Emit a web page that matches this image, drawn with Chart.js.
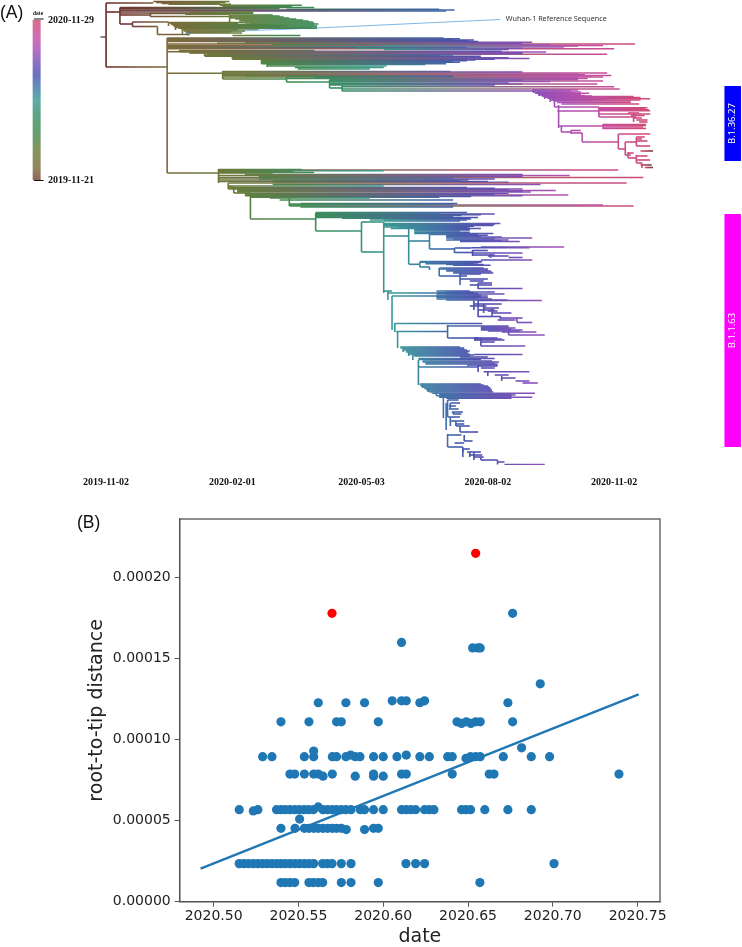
<!DOCTYPE html>
<html>
<head>
<meta charset="utf-8">
<script src="https://cdn.jsdelivr.net/npm/chart.js@4/dist/chart.umd.min.js"></script>
<style>
  body { margin: 0; background: #fff; }
  canvas { position: absolute; left: 0; }
  #tree { top: 0; }
  #rtt { top: 500px; }
</style>
</head>
<body>
<canvas id="tree" width="742" height="500"></canvas>
<canvas id="rtt" width="742" height="447"></canvas>
<script>
// panel A: days since 2019-11-02, row = tip order from the top
const dateTicks = [0, 91, 184, 275, 366];
const dateLabels = ['2019-11-02', '2020-02-01', '2020-05-03', '2020-08-02', '2020-11-02'];

// [from day, to day, row]
const clade1 = [
  [0,34,3],[34,89,1.5],[36,86,2.5],[40,82,3.5],[45,90,4.2],[82,141,5.2],[84,134,6.2],
  [0,10,12],[10,150,7.5],[10,125,8.5],[130,240,9.2],[10,251,10],[10,245,11],[60,106,12],[10,106,13],
  [10,32,15],[32,106,13.5],[57,89,14.3],[32,91,16.5],[89,120,15],[89,125,16],[89,128,17],[89,132,18],
  [93,137,19],[96,142,20],[96,146,21],[100,149,22],[100,150,23],[104,153,24],[108,150,25],[110,152,26],[112,152,27],
  [10,19,24],[19,45,22],[19,37,26.5],[45,100,22.5],[46,95,23.5],[47,118,24.5],[48,130,25.5],[49,125,26.5],
  [50,148,27.5],[52,152,28.2],[54,110,29],[55,95,30],[56,100,31],[58,90,32],[60,98,33],[37,60,34.5],[91,140,35.5]
];
const clade2 = [
  [0,44,67],[44,243,38],[44,251,39.3],[44,261,40.7],[100,307,42.3],[44,381,44],[44,358,45.5],[44,200,46.7],[200,330,47],
  [44,366,48.7],[200,290,49.5],[53,150,50.5],[44,53,51.7],[53,317,52],[60,277,53],[73,361,54.3],[71,240,55.5],[91,262,57],
  [91,305,58.5],[112,266,60],[112,250,61.5],[112,243,63],[116,230,64.5],[116,202,66],[136,200,67.5],[138,190,69],
  [44,255,38.7],[44,265,40],[44,268,41.5],[80,300,43.2],[120,320,44.8],[200,340,46],[44,260,47.5],[180,300,48.2],
  [53,285,51.2],[60,300,52.7],[73,300,53.7],[71,250,55],[71,270,56.2],[91,290,57.8],[91,280,59.2],[112,260,60.8],[112,255,62.2],[112,245,63.8],
  [44,84,73.3],[84,248,71.5],[84,361,73],[84,364,75.5],[84,358,77],[84,130,79],[130,347,78.5],[130,161,82],[161,358,81],
  [84,300,72],[84,340,74],[84,345,74.8],[100,350,76],[150,340,77.8],[161,340,79.7],[161,320,81.5],[161,300,84],
  [130,250,76.5],[161,300,80],[161,354,84],[161,170,88],[170,366,86.7],[170,370,89],[170,308,91],[161,290,83],[161,280,85]
];
const clade1_36 = [
  [307,340,90],[308,342,92],[309,348,93.3],[311,342,94.5],[313,345,95.5],[315,380,96.5],[317,385,97.5],[319,392,98.7],
  [307,335,91],[310,338,92.7],[312,340,93.9],[314,350,96],[316,360,97],[318,360,98.2],[321,360,99.4],[322,350,100.5],
  [320,385,100],[322,378,101],[325,378,102.5],[328,384,104],[323,355,107],[355,390,107.8],[355,388,108.8],[355,391,109.7],
  [355,392,110.7],[325,355,111],[355,392,114],[355,382,117],[376,384,113],[378,388,115.5],[380,386,118],[382,390,120],[384,390,122],
  [326,358,126],[358,389,124.5],[358,389,125.5],[358,387,127],[358,389,128.5],[328,335,132],[335,343,133],[335,342,130.5],
  [343,369,142],[369,392,134],[369,374,149],[374,382,142],[382,388,137],[382,386,139],[382,390,141],[382,392,146],[385,394,151],
  [374,378,155],[376,380,153],[376,382,158],[382,390,156],[382,392,160],[382,386,163],[385,393,165],[388,394,167.5]
];
const clade3 = [
  [44,81,173],[81,369,170],[81,141,169.5],[81,135,171.5],[81,120,173],[81,334,175.5],[81,387,177.5],[81,250,178],[81,261,180],
  [81,200,170.7],[81,150,172.5],[100,300,174.5],[110,300,176.5],[110,280,179],[120,255,180.8],[120,290,182.3],
  [81,275,181.5],[88,375,183],[120,313,184.5],[88,200,186],[88,300,189],[95,324,190.5],[95,306,192],[100,290,193.5],[100,333,195],
  [88,260,187.5],[90,280,188.2],[95,290,189.7],[95,300,191.3],[100,280,194.3],[100,300,195.7],[104,240,197.3],
  [104,263,196.5],[118,190,198],[125,250,200],[140,253,203.5],[132,380,206],[132,358,205],[132,250,204],[140,250,207],[92,104,193],[104,151,219],[88,92,187]
];
const clade4 = [
  [151,260,212.5],[151,280,214],[151,256,215.5],[151,268,217.5],[200,263,219],[184,200,222],[151,184,231],[184,200,252],
  [151,240,213.2],[151,270,214.8],[151,250,216.3],[170,262,218.3],[190,260,220],[200,255,221],
  [200,284,223.5],[200,279,225.5],[200,262,227],[205,270,228.5],[222,262,230],[222,279,233.5],[200,218,236],[218,233,241],
  [200,280,224.2],[200,275,224.8],[205,265,226.3],[210,260,227.7],[222,262,229.2],[222,255,231],[222,262,232.2],
  [233,268,234.5],[245,307,238],[245,290,240],[255,298,241.5],[270,330,247],[233,251,249],[251,263,248],[263,305,247.8],
  [245,275,235.3],[245,270,236.3],[245,285,237],[250,280,239],[255,285,240.7],
  [251,264,252.5],[264,275,250.5],[264,300,253],[264,280,255],[275,290,256],[290,300,257.5],[270,307,260],
  [218,226,264.3],[226,271,261.5],[245,268,263],[250,277,265.3],[226,233,267],[240,275,269],[245,277,271],[250,279,273],
  [226,270,262.2],[230,265,263.7],[245,272,264.5],[240,272,268],[245,275,270],[250,278,272],[255,270,274],
  [240,260,276],[255,275,279],[262,272,281],[268,278,283],[262,278,285],[268,300,288.5]
];
const clade5 = [
  [200,206,291],[203,238,293],[206,245,296],[245,287,294],[245,275,296],[245,268,298],[245,289,300],[268,314,300.5],[245,280,292],
  [238,262,291],[238,265,292.5],[238,268,293.5],[238,270,295],[238,270,296.5],[238,275,297.5],[238,278,299],
  [265,285,304],[262,274,306],[272,283,308],[268,280,310],[275,282,311],[278,292,313],[268,284,316.5],[284,300,318],[282,295,320],[296,307,322.5],
  [208,271,323.5],[209,246,331.5],[246,290,326],[270,295,328],[270,300,330],[285,310,332],[290,316,335],[246,268,338],
  [270,290,327],[270,292,329],[275,298,331],[265,285,339],
  [265,282,338],[265,287,340],[270,280,342],[270,302,346],
  [212,255,347],[214,258,349],[216,262,351],[218,260,353],[220,265,355],[265,300,354.5],[255,275,357],[225,280,358.5],
  [212,258,348],[214,260,350],[216,261,352],[218,262,354],[222,262,356],[225,270,359.5],[228,278,361],[230,280,363],[260,282,365],
  [228,283,362],[230,282,364],[225,268,367],[268,282,366],[270,280,368],[272,305,371.7],[280,290,375],[285,295,378],[295,305,381],[300,311,383],
  [226,270,384],[227,275,386],[229,277,388],[231,278,390],[233,279,392],[235,309,393.3],[240,295,395],[240,292,394.3],[240,292,396],[240,307,397.3],[245,292,398.3],
  [226,272,385],[228,276,387],[230,277,389],[232,278,391],[238,292,395.7],[240,292,397],
  [246,254,400],[248,255,403],[247,252,406],[247,254,409],[249,257,412],[250,256,414],[246,255,417],[248,258,421],[252,258,424],[252,262,426],[255,268,432],
  [246,256,435],[258,264,441],[251,258,443],[246,257,447],[257,262,449],[260,270,452],[262,271,455],[265,272,457],[270,282,460],[282,287,462],[287,316,464.5]
];
// [day, from row, to row]
const links = [
  [0,3,67],[10,7.5,24],[32,13,17],[19,22,26.5],[37,26.5,34.5],[45,22,26],[50,26,30],[55,30,34],[89,15,28],
  [44,38,173],[53,50,52],[71,53,56],[91,55,59],[112,59,64],[116,64,67],[84,71,79],[130,76,82.3],[161,80,88],[170,85,91],
  [308,91,93],[312,93,96],[316,96,99],[320,99,102],[323,102,107],[326,105,128],[355,107,117],[358,124,129],[328,126,132],[335,130,134],
  [343,133,142],[369,134,149],[374,142,155],[382,137,146],[376,152,158],[382,155,163],[386,163,168],[380,113,122],
  [81,169,183],[88,183,189],[92,187,193],[95,189,193],[104,193,219],[132,197,206],[151,213,231],[184,222,252],[200,222,293],
  [218,225,264],[233,234,249],[251,248,253],[264,250,256],[277,254,258],[226,262,267],[233,267,270],[240,268,276],[255,272,285],[268,283,289],
  [203,291,300],[206,296,330],[268,300,317],[284,316,319],[208,323,332],[246,325,338],[270,338,346],[210,332,348],
  [265,300,310],[272,304,313],[278,308,316],[296,318,322.5],[290,330,335],
  [214,348,352],[218,352,356],[221,356,360],[225,360,385],[268,365,372],[275,372,376],[285,376,381],
  [228,385,388],[232,388,392],[238,392,396],[243,396,418],[245,403,430],[246,400,417],[248,403,409],[250,412,414],[248,417,426],[252,421,426],[255,426,432],
  [246,434,447],[258,435,441],[257,447,452],[257,449,457],[262,452,457],[265,452,460],[270,457,460],[282,460,464.5]
];
const rootStub = [[-4,0,37],[-52,-45,19],[-52,-45,180.5]];
const wuhanTrace = [[59,33],[152,28],[284,19.5]];
const wuhanTip = [[59,33]];
const colourbarRows = [20, 180];
const colourbarDay = -50;
const cladeDay = 451.4;
const cladeNames = ['B.1.36.27', 'B.1.1.63'];
const cladeRows = [[86, 161], [214, 447]];
const cladeColours = ['#0000ff', '#ff00ff'];
const colourDays = [0, 19, 44, 90, 130, 175, 205, 240, 265, 300, 325, 350, 393];
const colourHex = ['#6b2a26','#74403a','#7b6a3a','#6a7c3a','#3f8a4c','#38906e','#3a9a96','#3f72a8','#4a4fb0','#7c4fb8','#a850b8','#c24fa8','#d24a70'];

// panel B: one list of dates for each root-to-tip distance level
const level118 = [2020.5397,2020.5423,2020.5450,2020.5478,2020.5562,2020.5588,2020.5617,2020.5643,2020.5753,2020.5810,2020.5971,2020.6570];
const level235 = [2020.5151,2020.5179,2020.5206,2020.5234,2020.5261,2020.5289,2020.5316,2020.5344,2020.5371,2020.5397,2020.5424,2020.5452,2020.5480,2020.5507,2020.5535,2020.5562,2020.5590,2020.5643,2020.5670,2020.5698,2020.5753,2020.5810,2020.6134,2020.6191,2020.6244,2020.7007];
const level453 = [2020.5397,2020.5480,2020.5535,2020.5562,2020.5590,2020.5617,2020.5645,2020.5672,2020.5700,2020.5725,2020.5753,2020.5943,2020.5971];
const level445 = [2020.5782,2020.5890];
const level568 = [2020.5151,2020.5261,2020.5371,2020.5397,2020.5423,2020.5450,2020.5478,2020.5505,2020.5533,2020.5560,2020.5588,2020.5645,2020.5672,2020.5700,2020.5725,2020.5753,2020.5780,2020.5810,2020.5865,2020.5890,2020.5943,2020.6000,2020.6108,2020.6136,2020.6163,2020.6191,2020.6244,2020.6272,2020.6299,2020.6462,2020.6488,2020.6515,2020.6599,2020.6735,2020.6873];
const level788 = [2020.5450,2020.5478,2020.5535,2020.5590,2020.5617,2020.5700,2020.5943,2020.6108,2020.6136,2020.6407,2020.6625,2020.6653,2020.7390];
const level775 = [2020.5645,2020.5835,2020.5943,2020.6000];
const level895 = [2020.5289,2020.5344,2020.5535,2020.5590,2020.5700,2020.5725,2020.5780,2020.5835,2020.5863,2020.5943,2020.6000,2020.6081,2020.6216,2020.6272,2020.6380,2020.6407,2020.6515,2020.6545,2020.6572,2020.6708,2020.6873,2020.6981];
const level905 = [2020.5808,2020.6136];
const level885 = [2020.6488];
const level1110 = [2020.5397,2020.5562,2020.5725,2020.5753,2020.5971,2020.6435,2020.6490,2020.6545,2020.6572,2020.6763];
const level1100 = [2020.6462,2020.6517];
const level1228 = [2020.5617,2020.5780,2020.5890,2020.6216,2020.6735];
const level1240 = [2020.6053,2020.6108,2020.6136,2020.6244];
const level1566 = [2020.6527,2020.6558,2020.6572];
const distanceLevels = [0.0000118,0.0000235,0.0000453,0.0000445,0.0000568,0.0000788,0.0000775,0.0000895,0.0000905,0.0000885,0.000111,0.00011,0.0001228,0.000124,0.0001566];
const levelDates = [level118,level235,level453,level445,level568,level788,level775,level895,level905,level885,level1110,level1100,level1228,level1240,level1566];
const otherX = [2020.5507,2020.5234,2020.5617,2020.5590,2020.6816,2020.6108,2020.6763,2020.6926];
const otherY = [0.000051,0.000056,0.0000585,0.000093,0.000095,0.00016,0.000178,0.0001345];
const redX = [2020.5698, 2020.6545];
const redY = [0.000178, 0.000215];
const fitX = [2020.4923, 2020.7506];
const fitY = [0.0000204, 0.000128];

const xy = (xs, ys) => xs.map((x, i) => ({x, y: ys[i]}));
const gap = {x: null, y: null};

const branchPoints = [clade1, clade2, clade1_36, clade3, clade4, clade5]
  .flat()
  .flatMap(([a, b, r]) => [{x: a, y: r}, {x: b, y: r}, gap]);
const linkPoints = links.flatMap(([d, a, b]) => [{x: d, y: a}, {x: d, y: b}, gap]);

// colour of a date on the colour bar
function colourAt(day) {
  const k = Math.min(Math.max(colourDays.findIndex(d => d > day), 1), colourDays.length - 1);
  const t = Math.min(Math.max((day - colourDays[k - 1]) / (colourDays[k] - colourDays[k - 1]), 0), 1);
  const rgb = h => [1, 3, 5].map(i => parseInt(h.substr(i, 2), 16));
  const a = rgb(colourHex[k - 1]);
  const b = rgb(colourHex[k]);
  return `rgb(${a.map((v, i) => Math.round(v + (b[i] - v) * t)).join(',')})`;
}
// each branch fades from the colour of its start date to that of its end date
function branchColour(c) {
  const sx = c.chart.scales.x;
  const {p0, p1} = c;
  if (Math.abs(p0.x - p1.x) < 0.01) return colourAt(sx.getValueForPixel(p0.x));
  const g = c.chart.ctx.createLinearGradient(p0.x, 0, p1.x, 0);
  g.addColorStop(0, colourAt(sx.getValueForPixel(p0.x)));
  g.addColorStop(1, colourAt(sx.getValueForPixel(p1.x)));
  return g;
}
function barGradient(chart) {
  const sy = chart.scales.y;
  if (!chart.chartArea || !sy) return '#666';
  const y0 = sy.getPixelForValue(colourbarRows[1]);
  const y1 = sy.getPixelForValue(colourbarRows[0]);
  if (!Number.isFinite(y0) || !Number.isFinite(y1)) return '#666';
  const g = chart.ctx.createLinearGradient(0, y0, 0, y1);
  colourDays.forEach((d, i) => {
    if (d >= 19) g.addColorStop((d - 19) / 374, colourHex[i] + 'd0');
  });
  return g;
}

const treeText = {
  id: 'treeText',
  afterDraw(chart) {
    const {ctx, scales: {x, y}} = chart;
    ctx.save();
    ctx.fillStyle = '#111';
    ctx.textBaseline = 'middle';
    ctx.font = '17.5px "Liberation Sans"';
    ctx.fillText('(A)', 0, 13);
    ctx.font = 'bold 10px "Liberation Serif"';
    ctx.fillText('2020-11-29', 48, y.getPixelForValue(20.5));
    ctx.fillText('2019-11-21', 48, y.getPixelForValue(180));
    ctx.font = 'bold 5.5px "Liberation Serif"';
    ctx.fillText('date', 33, 14);
    ctx.font = '7.2px "Noto Sans"';
    ctx.fillStyle = '#333';
    ctx.fillText('Wuhan-1 Reference Sequence', x.getPixelForValue(288), y.getPixelForValue(19));
    ctx.fillStyle = '#fff';
    ctx.font = '9.5px "Noto Sans"';
    ctx.textAlign = 'center';
    cladeNames.forEach((name, i) => {
      ctx.save();
      ctx.translate(x.getPixelForValue(cladeDay), y.getPixelForValue((cladeRows[i][0] + cladeRows[i][1]) / 2));
      ctx.rotate(-Math.PI / 2);
      ctx.fillText(name, 0, 0);
      ctx.restore();
    });
    ctx.restore();
  }
};

const treeCtx = document.getElementById('tree').getContext('2d');
new Chart(treeCtx, {
  type: 'scatter',
  data: {
    datasets: [
      {data: branchPoints, showLine: true, pointRadius: 0, borderWidth: 1.6, borderCapStyle: 'butt', borderColor: '#666', segment: {borderColor: branchColour}},
      {data: linkPoints, showLine: true, pointRadius: 0, borderWidth: 1.6, borderColor: '#666', segment: {borderColor: branchColour}},
      {data: wuhanTrace.map(([x, y]) => ({x, y})), showLine: true, pointRadius: 0, borderWidth: 1, borderColor: '#7fb6e6'},
      {data: wuhanTip.map(([x, y]) => ({x, y})), pointRadius: 2.5, backgroundColor: '#5b9bd5', borderWidth: 0},
      {data: rootStub.flatMap(([a, b, r]) => [{x: a, y: r}, {x: b, y: r}, gap]), showLine: true, pointRadius: 0, borderWidth: 1.2, borderColor: '#111'},
      {data: colourbarRows.map(r => ({x: colourbarDay, y: r})), showLine: true, pointRadius: 0, borderWidth: 8, borderColor: c => barGradient(c.chart)},
      ...cladeRows.map((rows, i) => ({
        data: rows.map(r => ({x: cladeDay, y: r})), showLine: true, pointRadius: 0, borderWidth: 16.5, borderColor: cladeColours[i]
      }))
    ]
  },
  options: {
    responsive: false,
    animation: false,
    layout: {padding: 0, autoPadding: false},
    plugins: {legend: {display: false}, tooltip: {enabled: false}},
    scales: {
      x: {
        type: 'linear', min: -76.4, max: 458.1,
        afterFit: s => { s.height = 35; },
        afterBuildTicks: s => { s.ticks = dateTicks.map(value => ({value})); },
        border: {display: false},
        grid: {display: false},
        ticks: {
          autoSkip: false, maxRotation: 0, padding: 3, color: '#111',
          font: {family: 'Liberation Serif', size: 10, weight: 'bold'},
          callback: v => dateLabels[dateTicks.indexOf(v)]
        }
      },
      y: {type: 'linear', display: false, reverse: true, min: 0, max: 465}
    }
  },
  plugins: [treeText]
});

const frame = {
  id: 'frame',
  afterDraw(chart) {
    const {ctx, chartArea: a} = chart;
    ctx.save();
    ctx.strokeStyle = '#555';
    ctx.lineWidth = 1.3;
    ctx.strokeRect(a.left, a.top, a.right - a.left, a.bottom - a.top);
    ctx.fillStyle = '#111';
    ctx.textBaseline = 'middle';
    ctx.font = '17.5px "Liberation Sans"';
    ctx.fillText('(B)', 77, 23);
    ctx.restore();
  }
};

const blue = levelDates.flatMap((dates, i) => dates.map(x => ({x, y: distanceLevels[i]})))
  .concat(xy(otherX, otherY));

const rttCtx = document.getElementById('rtt').getContext('2d');
new Chart(rttCtx, {
  type: 'scatter',
  data: {
    datasets: [
      {data: xy(fitX, fitY), showLine: true, pointRadius: 0, borderColor: '#1f77b4', borderWidth: 2.3, order: 0},
      {data: blue, pointRadius: 4.6, backgroundColor: '#1f77b4', borderWidth: 0, order: 1},
      {data: xy(redX, redY), pointRadius: 4.6, backgroundColor: '#ff0000', borderWidth: 0, order: 1}
    ]
  },
  options: {
    responsive: false,
    animation: false,
    layout: {padding: {left: 86, top: 19, right: 82, bottom: 0}, autoPadding: false},
    plugins: {legend: {display: false}, tooltip: {enabled: false}},
    scales: {
      x: {
        type: 'linear', min: 2020.48, max: 2020.7632,
        afterFit: s => { s.height = 45.3; },
        title: {display: true, text: 'date', color: '#222', padding: 0, font: {family: 'DejaVu Sans', size: 19, lineHeight: 1}},
        border: {color: '#555', width: 1.3},
        grid: {drawOnChartArea: false, tickLength: 5, color: '#555'},
        ticks: {stepSize: 0.05, includeBounds: false, maxRotation: 0, autoSkip: false, padding: 1, color: '#222',
          font: {family: 'DejaVu Sans', size: 14}, callback: v => v.toFixed(2)}
      },
      y: {
        type: 'linear', min: 0, max: 0.0002362,
        afterFit: s => { s.width = 93.7; },
        title: {display: true, text: 'root-to-tip distance', color: '#222', padding: 0, font: {family: 'DejaVu Sans', size: 19}},
        border: {color: '#555', width: 1.3},
        grid: {drawOnChartArea: false, tickLength: 5, color: '#555'},
        ticks: {stepSize: 0.00005, includeBounds: false, autoSkip: false, padding: 4, color: '#222',
          font: {family: 'DejaVu Sans', size: 14}, callback: v => v.toFixed(5)}
      }
    }
  },
  plugins: [frame]
});
</script>
</body>
</html>
